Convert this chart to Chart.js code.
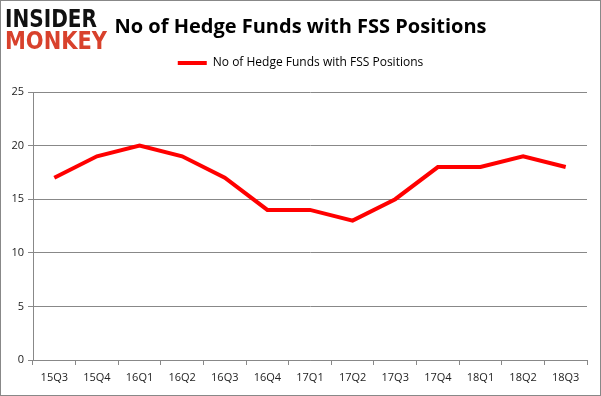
<!DOCTYPE html>
<html>
<head>
<meta charset="utf-8">
<script src="https://cdn.jsdelivr.net/npm/chart.js@4/dist/chart.umd.min.js"></script>
<style>
  html, body { margin: 0; padding: 0; background: #fff; }
  #wrap { position: relative; width: 601px; height: 396px; }
  canvas { display: block; }
  .logo { position: absolute; left: 5px; font-family: "DejaVu Sans", sans-serif; font-weight: bold; font-size: 24px; line-height: 1; white-space: nowrap; transform-origin: 0 0; }
  #l1 { top: 7px; color: #111; }
  #l2 { top: 29px; color: #d8412c; }
</style>
</head>
<body>
<div id="wrap">
  <canvas id="c" width="601" height="396"></canvas>
  <div class="logo" id="l1">INSIDER</div>
  <div class="logo" id="l2">MONKEY</div>
</div>
<script>
const categories = ["15Q3","15Q4","16Q1","16Q2","16Q3","16Q4","17Q1","17Q2","17Q3","17Q4","18Q1","18Q2","18Q3"];
const fundCounts = [17, 19, 20, 19, 17, 14, 14, 13, 15, 18, 18, 19, 18];
const seriesName = "No of Hedge Funds with FSS Positions";
const titleText = "No of Hedge Funds with FSS Positions";
const yTicks = [0, 5, 10, 15, 20, 25];

function fitLogo(id, w) {
  const el = document.getElementById(id);
  const r = el.getBoundingClientRect();
  el.style.transform = 'scale(' + (w / r.width) + ',1)';
}
fitLogo('l1', 92);
fitLogo('l2', 102);

const frame = {
  id: 'frame',
  beforeInit(chart) {
    const lg = chart.legend;
    if (lg) {
      const orig = lg.fit;
      lg.fit = function () { orig.call(this); this.height += 13; };
    }
  },
  afterDraw(chart) {
    const ctx = chart.ctx;
    ctx.save();
    ctx.strokeStyle = '#888888';
    ctx.lineWidth = 1;
    ctx.strokeRect(0.5, 0.5, 600, 395);
    ctx.restore();
  }
};

new Chart(document.getElementById('c'), {
  type: 'line',
  data: {
    labels: categories,
    datasets: [{
      label: seriesName,
      data: fundCounts,
      borderColor: '#ff0000',
      backgroundColor: '#ff0000',
      borderWidth: 4,
      pointRadius: 0,
      tension: 0,
      fill: false
    }]
  },
  options: {
    responsive: false,
    animation: false,
    devicePixelRatio: 1,
    layout: { padding: { left: 14, right: 14, top: 0, bottom: 0 } },
    plugins: {
      title: {
        display: true,
        text: titleText,
        color: '#000',
        font: { family: '"Open Sans", "Liberation Sans", sans-serif', size: 20, weight: 'bold' },
        padding: { top: 15, bottom: 8 }
      },
      legend: {
        display: true,
        labels: {
          usePointStyle: true,
          pointStyle: 'line',
          pointStyleWidth: 29,
          boxHeight: 12,
          color: '#000',
          font: { family: '"Open Sans", "Liberation Sans", sans-serif', size: 12 },
          padding: 10
        }
      },
      tooltip: { enabled: false }
    },
    scales: {
      x: {
        offset: true,
        grid: { display: true, drawOnChartArea: false, drawTicks: true, offset: true, tickLength: 5, color: '#888' },
        border: { display: true, color: '#888', width: 1 },
        ticks: { color: '#222', padding: 6, maxRotation: 0, font: { family: '"Open Sans", "Liberation Sans", sans-serif', size: 11 } },
        afterFit(s) { s.height = 36; }
      },
      y: {
        min: 0, max: 25,
        afterBuildTicks(s) { s.ticks = yTicks.map(v => ({ value: v })); },
        grid: { color: '#888', tickLength: 5, drawTicks: true },
        border: { display: true, color: '#888', width: 1 },
        ticks: { color: '#222', padding: 4, font: { family: '"Open Sans", "Liberation Sans", sans-serif', size: 11 } },
        afterFit(s) { s.width = 19; s._computeLabelArea = function () { return undefined; }; }
      }
    }
  },
  plugins: [frame]
});
</script>
</body>
</html>
